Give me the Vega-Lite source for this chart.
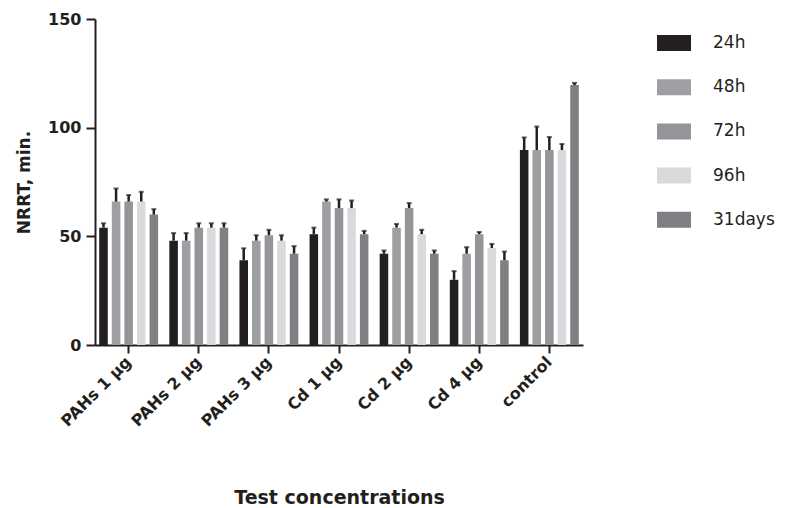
{
  "$schema": "https://vega.github.io/schema/vega-lite/v6.json",
  "width": 488,
  "height": 326,
  "autosize": {"type": "none"},
  "padding": {"left": 95, "top": 19, "right": 213, "bottom": 163},
  "background": "white",
  "config": {
    "view": {"stroke": null},
    "font": "DejaVu Sans",
    "axis": {"grid": false, "domainColor": "#231f20", "tickColor": "#231f20", "labelColor": "#231f20", "titleColor": "#231f20", "domainWidth": 2, "tickWidth": 2}
  },
  "data": {"values": [
    {"group": "PAHs 1 µg", "time": "24h", "value": 54, "upper": 56},
    {"group": "PAHs 1 µg", "time": "48h", "value": 66, "upper": 72},
    {"group": "PAHs 1 µg", "time": "72h", "value": 66, "upper": 69},
    {"group": "PAHs 1 µg", "time": "96h", "value": 66, "upper": 70.5},
    {"group": "PAHs 1 µg", "time": "31days", "value": 60, "upper": 62.5},
    {"group": "PAHs 2 µg", "time": "24h", "value": 48, "upper": 51.5},
    {"group": "PAHs 2 µg", "time": "48h", "value": 48, "upper": 51.5},
    {"group": "PAHs 2 µg", "time": "72h", "value": 54, "upper": 56},
    {"group": "PAHs 2 µg", "time": "96h", "value": 54, "upper": 56},
    {"group": "PAHs 2 µg", "time": "31days", "value": 54, "upper": 56},
    {"group": "PAHs 3 µg", "time": "24h", "value": 39, "upper": 44.5},
    {"group": "PAHs 3 µg", "time": "48h", "value": 48, "upper": 50.5},
    {"group": "PAHs 3 µg", "time": "72h", "value": 50.5, "upper": 53},
    {"group": "PAHs 3 µg", "time": "96h", "value": 48, "upper": 50.5},
    {"group": "PAHs 3 µg", "time": "31days", "value": 42, "upper": 45.5},
    {"group": "Cd 1 µg", "time": "24h", "value": 51, "upper": 54},
    {"group": "Cd 1 µg", "time": "48h", "value": 66, "upper": 67},
    {"group": "Cd 1 µg", "time": "72h", "value": 63, "upper": 67},
    {"group": "Cd 1 µg", "time": "96h", "value": 63, "upper": 66.5},
    {"group": "Cd 1 µg", "time": "31days", "value": 51, "upper": 52.5},
    {"group": "Cd 2 µg", "time": "24h", "value": 42, "upper": 43.5},
    {"group": "Cd 2 µg", "time": "48h", "value": 54, "upper": 55.7},
    {"group": "Cd 2 µg", "time": "72h", "value": 63, "upper": 65.3},
    {"group": "Cd 2 µg", "time": "96h", "value": 51, "upper": 53},
    {"group": "Cd 2 µg", "time": "31days", "value": 42, "upper": 43.5},
    {"group": "Cd 4 µg", "time": "24h", "value": 30, "upper": 34},
    {"group": "Cd 4 µg", "time": "48h", "value": 42, "upper": 45},
    {"group": "Cd 4 µg", "time": "72h", "value": 51, "upper": 52},
    {"group": "Cd 4 µg", "time": "96h", "value": 44.6, "upper": 46.5},
    {"group": "Cd 4 µg", "time": "31days", "value": 39, "upper": 43},
    {"group": "control", "time": "24h", "value": 89.7, "upper": 95.5},
    {"group": "control", "time": "48h", "value": 89.7, "upper": 100.5},
    {"group": "control", "time": "72h", "value": 89.7, "upper": 95.7},
    {"group": "control", "time": "96h", "value": 89.7, "upper": 92.5},
    {"group": "control", "time": "31days", "value": 119.6, "upper": 120.6}
  ]},
  "encoding": {
    "x": {
      "field": "group", "type": "nominal", "sort": null,
      "scale": {"paddingInner": 0.16, "paddingOuter": 0.06},
      "axis": {
        "title": "Test concentrations", "titleFontSize": 19, "titleFontWeight": "bold",
        "titleY": 152, "titleBaseline": "middle",
        "labelAngle": -45, "labelFontSize": 16, "labelFontWeight": "bold",
        "labelAlign": "right", "labelBaseline": "middle", "labelPadding": 6,
        "tickSize": 8
      }
    },
    "xOffset": {"field": "time", "type": "nominal", "sort": ["24h", "48h", "72h", "96h", "31days"], "scale": {"paddingInner": 0.32, "paddingOuter": 0}}
  },
  "layer": [
    {
      "mark": {"type": "bar"},
      "encoding": {
        "y": {
          "field": "value", "type": "quantitative",
          "scale": {"domain": [0, 150], "nice": false},
          "axis": {
            "title": "NRRT, min.", "titleFontSize": 17, "titleFontWeight": "bold", "titlePadding": 14,
            "values": [0, 50, 100, 150], "labelFontSize": 16, "labelFontWeight": "bold",
            "tickSize": 9, "labelPadding": 5
          }
        },
        "color": {
          "field": "time", "type": "nominal",
          "sort": ["24h", "48h", "72h", "96h", "31days"],
          "scale": {"domain": ["24h", "48h", "72h", "96h", "31days"], "range": ["#231f20", "#9d9fa2", "#939598", "#d9dadb", "#7f8083"]},
          "legend": {
            "title": null, "orient": "none", "legendX": 562, "legendY": 7,
            "symbolType": "M-1,-0.47H1V0.47H-1Z", "symbolSize": 1156, "symbolStrokeWidth": 0,
            "labelFontSize": 17, "labelColor": "#231f20", "labelOffset": 22, "rowPadding": 19.2, "padding": 0
          }
        }
      }
    },
    {
      "mark": {"type": "rule", "strokeWidth": 2.5, "color": "#231f20"},
      "encoding": {
        "y": {"field": "value", "type": "quantitative", "scale": {"domain": [0, 150], "nice": false}},
        "y2": {"field": "upper"}
      }
    },
    {
      "mark": {"type": "tick", "size": 5, "thickness": 2, "color": "#231f20"},
      "encoding": {
        "y": {"field": "upper", "type": "quantitative", "scale": {"domain": [0, 150], "nice": false}}
      }
    }
  ]
}
